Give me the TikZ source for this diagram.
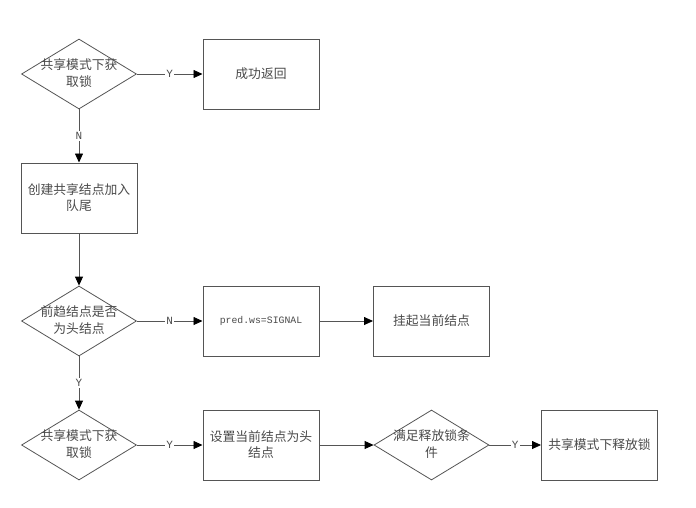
\documentclass[tikz,border=0pt]{standalone}
\usepackage{fontspec}
\setmainfont{Noto Sans CJK SC}
\newfontfamily\monof{Liberation Mono}
\usetikzlibrary{shapes.geometric,arrows.meta}
\definecolor{linec}{HTML}{555555}
\definecolor{textc}{HTML}{4A4A4A}
\newcommand{\dtext}[1]{\smash{\makebox[0pt]{\raisebox{-3.5pt}{\renewcommand{\arraystretch}{1.05}\begin{tabular}{@{}c@{}}#1\end{tabular}}}}}
\tikzset{
  box/.style={draw=linec, line width=1pt, minimum width=116pt, minimum height=70pt, text=textc, align=center, font=\fontsize{12.8}{16}\selectfont, inner sep=0pt},
  dec/.style={draw=linec, line width=0.8pt, diamond, minimum width=115pt, minimum height=70pt, text=textc, font=\fontsize{12.8}{16}\selectfont, inner sep=0pt},
  conn/.style={draw=linec, line width=0.8pt, -{Triangle[length=9pt,width=8pt,fill=black,color=black]}},
  lbl/.style={fill=white, inner sep=1pt, text=textc, font=\fontsize{11}{12}\selectfont\monof}
}
\begin{document}
\begin{tikzpicture}[x=1pt,y=-1pt]
\useasboundingbox (0,0) rectangle (696,507);
\fill[white] (0,0) rectangle (696,507);
\node[dec] (d1) at (79,74) {\dtext{共享模式下获\\取锁}};
\node[box] (ok) at (261,74) {成功返回};
\node[box] (create) at (79,198) {创建共享结点加入\\队尾};
\node[dec] (d2) at (79,321) {\dtext{前趋结点是否\\为头结点}};
\node[box] (pred) at (261,321) {\monof\fontsize{9.8}{11}\selectfont pred.ws=SIGNAL};
\node[box] (park) at (431.5,321) {挂起当前结点};
\node[dec] (d3) at (79,445) {\dtext{共享模式下获\\取锁}};
\node[box] (sethead) at (261,445) {设置当前结点为头\\结点};
\node[dec] (d4) at (431.5,445) {\dtext{满足释放锁条\\件}};
\node[box] (rel) at (599.5,445) {共享模式下释放锁};

\draw[conn] (d1.east) -- node[lbl,pos=0.5]{Y} (ok.west);
\draw[conn] (d1.south) -- node[lbl,pos=0.5]{N} (create.north);
\draw[conn] (create.south) -- (d2.north);
\draw[conn] (d2.east) -- node[lbl,pos=0.5]{N} (pred.west);
\draw[conn] (pred.east) -- (park.west);
\draw[conn] (d2.south) -- node[lbl,pos=0.5]{Y} (d3.north);
\draw[conn] (d3.east) -- node[lbl,pos=0.5]{Y} (sethead.west);
\draw[conn] (sethead.east) -- (d4.west);
\draw[conn] (d4.east) -- node[lbl,pos=0.5]{Y} (rel.west);
\end{tikzpicture}
\end{document}
